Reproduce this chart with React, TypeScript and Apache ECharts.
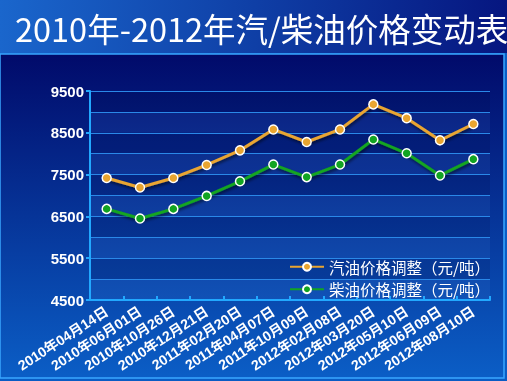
import React, { useEffect, useRef } from "react";
import * as echarts from "echarts";

const titleText = "2010年-2012年汽/柴油价格变动表";
const categories = [
  "2010年04月14日",
  "2010年06月01日",
  "2010年10月26日",
  "2010年12月21日",
  "2011年02月20日",
  "2011年04月07日",
  "2011年10月09日",
  "2012年02月08日",
  "2012年03月20日",
  "2012年05月10日",
  "2012年06月09日",
  "2012年08月10日",
];
const gasolineName = "汽油价格调整（元/吨）";
const dieselName = "柴油价格调整（元/吨）";
const gasoline = [7420, 7190, 7420, 7730, 8080, 8580, 8280, 8580, 9180, 8850, 8320, 8710];
const diesel = [6680, 6450, 6680, 6990, 7340, 7740, 7440, 7740, 8340, 8010, 7480, 7870];
const yMin = 4500;
const yMax = 9500;

export default function App() {
  const ref = useRef<HTMLDivElement>(null);
  useEffect(() => {
    if (!ref.current) return;
    const chart = echarts.init(ref.current, undefined, { renderer: "svg" });
    const cjk = '"Noto Sans CJK SC", "Liberation Sans", sans-serif';
    const latin = '"Liberation Sans", "Noto Sans CJK SC", sans-serif';
    const mkSeries = (name: string, data: number[], color: string) => ({
      name,
      type: "line",
      data,
      symbol: "circle",
      symbolSize: 9,
      yAxisIndex: 0,
      lineStyle: {
        color,
        width: 3,
        shadowColor: "rgba(0,0,0,0.55)",
        shadowBlur: 3,
        shadowOffsetX: 1,
        shadowOffsetY: 2,
      },
      itemStyle: { color, borderColor: "#ffffff", borderWidth: 1.5 },
      z: 5,
    });
    chart.setOption({
      animation: false,
      backgroundColor: "transparent",
      graphic: [
        {
          type: "rect",
          shape: { x: 0, y: 0, width: 507, height: 53 },
          style: {
            fill: new echarts.graphic.LinearGradient(0, 0, 1, 0, [
              { offset: 0, color: "#1a66cc" },
              { offset: 0.5, color: "#0f3fa6" },
              { offset: 1, color: "#061680" },
            ]),
          },
          z: -10,
        },
        {
          type: "rect",
          shape: { x: 0, y: 53, width: 507, height: 328 },
          style: { fill: "#0a5cc4" },
          z: -10,
        },
        {
          type: "rect",
          shape: { x: 0, y: 54, width: 504, height: 324 },
          style: {
            fill: new echarts.graphic.LinearGradient(0, 0, 0, 1, [
              { offset: 0, color: "#010a6a" },
              { offset: 1, color: "#0b5ec6" },
            ]),
            stroke: "#3aa6ff",
            lineWidth: 1.5,
          },
          z: -9,
        },
        {
          type: "text",
          x: 15,
          y: 27,
          style: {
            text: titleText,
            fill: "#ffffff",
            fontSize: 32.5,
            fontFamily: cjk,
            verticalAlign: "middle",
          },
        },
      ],
      grid: { left: 90, right: 17, top: 91, bottom: 81, containLabel: false },
      legend: {
        orient: "vertical",
        left: 284,
        top: 254,
        itemWidth: 34,
        itemHeight: 10,
        itemGap: 7,
        textStyle: { color: "#ffffff", fontSize: 15.5, fontFamily: cjk },
        data: [gasolineName, dieselName],
      },
      xAxis: {
        type: "category",
        data: categories,
        boundaryGap: true,
        axisLine: { lineStyle: { color: "#22a8ff", width: 2 } },
        axisTick: { show: true, inside: true, length: 4, lineStyle: { color: "#22a8ff", width: 2 } },
        axisLabel: {
          interval: 0,
          rotate: 33,
          color: "#ffffff",
          fontSize: 14,
          fontWeight: "bold",
          fontFamily: latin,
          margin: 10,
        },
        splitLine: { show: false },
      },
      yAxis: [
        {
          type: "value",
          min: yMin,
          max: yMax,
          interval: 1000,
          position: "left",
          axisLine: { show: true, lineStyle: { color: "#22a8ff", width: 2 } },
          axisTick: { show: true, length: 4, lineStyle: { color: "#22a8ff", width: 2 } },
          axisLabel: {
            color: "#ffffff",
            fontSize: 15,
            fontWeight: "bold",
            fontFamily: latin,
            margin: 6,
            formatter: (v: number) => String(v),
          },
          splitLine: { show: false },
          z: 3,
        },
        {
          type: "value",
          min: yMin,
          max: yMax,
          interval: 500,
          position: "left",
          axisLine: { show: false },
          axisTick: { show: false },
          axisLabel: { show: false },
          splitLine: { show: true, lineStyle: { color: "#2a88e8", width: 1 } },
          splitArea: {
            show: true,
            areaStyle: { color: ["rgba(120,180,255,0.08)", "rgba(0,0,40,0.12)"] },
          },
        },
      ],
      series: [mkSeries(gasolineName, gasoline, "#e9a530"), mkSeries(dieselName, diesel, "#12a422")],
    });
    return () => chart.dispose();
  }, []);
  return (
    <div
      ref={ref}
      style={{ position: "fixed", left: 0, top: 0, width: 507, height: 381 }}
    />
  );
}
